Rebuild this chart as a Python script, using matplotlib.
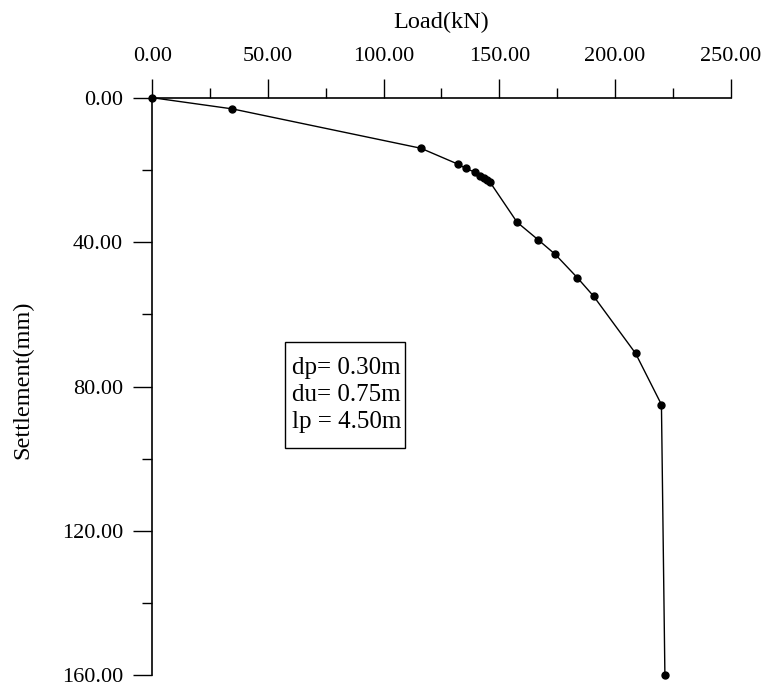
import matplotlib
matplotlib.use("Agg")
import matplotlib.pyplot as plt
from matplotlib.ticker import MultipleLocator, FormatStrFormatter
from matplotlib.patches import Rectangle

# Data
load = [0, 34.6, 116.1, 132.1, 135.5, 139.4, 141.8, 143.2, 144.6, 146.0,
        157.7, 166.7, 174.2, 183.8, 190.8, 208.9, 220.1, 221.6]
settlement = [0, 3.1, 14.0, 18.4, 19.6, 20.6, 21.7, 22.2, 22.7, 23.4,
              34.5, 39.3, 43.4, 49.9, 55.0, 70.8, 85.0, 160.0]
info_lines = ["dp= 0.30m", "du= 0.75m", "lp = 4.50m"]

plt.rcParams['font.family'] = ['Liberation Serif', 'DejaVu Serif']
FS_TICK = 16
FS_LABEL = 17.5
FS_BOX = 18

W, H = 765, 690
fig = plt.figure(figsize=(W / 100, H / 100), dpi=100)
left, right, top, bottom = 152.3, 730.6, 97.7, 675.3
ax = fig.add_axes([left / W, 1 - bottom / H, (right - left) / W, (bottom - top) / H])

ax.plot(load, settlement, color='black', lw=1.0, marker='o', markersize=5,
        markerfacecolor='black', markeredgecolor='black', clip_on=False, zorder=3)

ax.set_xlim(0, 250)
ax.set_ylim(160, 0)

ax.xaxis.set_ticks_position('top')
ax.xaxis.set_label_position('top')
ax.xaxis.set_major_locator(MultipleLocator(50))
ax.xaxis.set_minor_locator(MultipleLocator(25))
ax.yaxis.set_major_locator(MultipleLocator(40))
ax.yaxis.set_minor_locator(MultipleLocator(20))
ax.xaxis.set_major_formatter(FormatStrFormatter('%.2f'))
ax.yaxis.set_major_formatter(FormatStrFormatter('%.2f'))

ax.tick_params(axis='x', which='major', direction='out', length=13.5, width=1.0,
               pad=9.5, labelsize=FS_TICK, top=True, bottom=False)
ax.tick_params(axis='x', which='minor', direction='out', length=7, width=1.0,
               top=True, bottom=False)
ax.tick_params(axis='y', which='major', direction='out', length=13.5, width=1.0,
               pad=7.5, labelsize=FS_TICK, left=True, right=False)
ax.tick_params(axis='y', which='minor', direction='out', length=7, width=1.0,
               left=True, right=False)

for s in ['bottom', 'right']:
    ax.spines[s].set_visible(False)
for s in ['top', 'left']:
    ax.spines[s].set_linewidth(1.2)

fig.text(441.5 / W, 1 - 28.3 / H, "Load(kN)", fontsize=FS_LABEL, ha='center', va='baseline')
fig.text(23 / W, 1 - 380 / H, "Settlement(mm)", fontsize=FS_LABEL, ha='center', va='center',
         rotation=90)

# Info box
ax.add_patch(Rectangle((57.4, 67.6), 52.0, 29.3, fill=False, edgecolor='black',
                       lw=1.0, zorder=2))
for txt, yb in zip(info_lines, [76.6, 84.1, 91.6]):
    ax.text(60.3, yb, txt, fontsize=FS_BOX, ha='left', va='baseline')

fig.savefig("out.png", dpi=100, facecolor='white')
